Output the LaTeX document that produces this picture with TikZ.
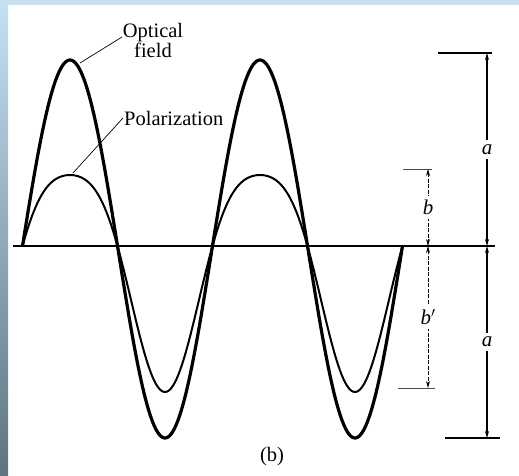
\documentclass[tikz,border=0pt]{standalone}
\usepackage{fontspec}
\setmainfont{Liberation Serif}
\usetikzlibrary{arrows.meta}
\definecolor{bandtop}{RGB}{197,225,243}
\definecolor{bandbot}{RGB}{94,116,128}
\begin{document}
\begin{tikzpicture}[x=1pt,y=-1pt,
  field/.style={line width=3.2pt,line join=round},
  polar/.style={line width=2pt,line join=round},
  axisline/.style={line width=1.3pt},
  leader/.style={line width=0.7pt},
  dimline/.style={line width=1.1pt,{Stealth[length=7pt,width=4pt]}-{Stealth[length=7pt,width=4pt]}},
  dimdash/.style={line width=0.8pt,dash pattern=on 4pt off 1.5pt,{Stealth[length=7pt,width=4pt]}-{Stealth[length=7pt,width=4pt]}},
  tick/.style={line width=1.1pt},
  ticklight/.style={line width=1pt,black!70},
  lbl/.style={font=\fontsize{20.5}{20}\selectfont,inner sep=0pt},
  dimlbl/.style={font=\fontsize{21}{21}\selectfont\itshape,fill=white,inner sep=4pt}
]
\useasboundingbox (0,0) rectangle (519,476);
\fill[white] (0,0) rectangle (519,476);
\fill[bandtop] (0,0) rectangle (519,5);
\shade[top color=bandtop,bottom color=bandbot] (0,0) rectangle (8,476);

% axis
\coordinate (axL) at (13,246);
\coordinate (axR) at (495,246);
\draw[axisline] (axL) -- (axR);

% curves
\draw[field] plot[domain=0:720,samples=241,variable=\t]
  ({22.5+0.527778*\t},{246-189*sin(\t)+3*sin(\t)*sin(\t)});
\draw[polar] plot[domain=0:720,samples=241,variable=\t]
  ({22.5+0.527778*\t},{246-108.5*sin(\t)+37.5*sin(\t)*sin(\t)});

% labels
\node[lbl,align=center] (opt) at (153,40) {Optical\\field};
\node[lbl,anchor=base west] (pol) at (124,125) {Polarization};
\coordinate (optE) at (80,63);
\coordinate (polE) at (73,173);
\draw[leader] (optE) -- (122,37);
\draw[leader] (polE) -- (123,118);

% dimension a
\coordinate (aT) at (487,53);
\coordinate (aM) at (487,246);
\coordinate (aB) at (487,438);
\draw[tick] (438,53) -- (492,53);
\draw[tick] (445,438) -- (500,438);
\draw[dimline] (aT) -- (aM) node[dimlbl,midway] (la1) {a};
\draw[dimline] (aM) -- (aB) node[dimlbl,midway] (la2) {a};

% dimension b, b'
\coordinate (bT) at (428,169);
\coordinate (bM) at (428,246);
\coordinate (bB) at (428,388);
\draw[ticklight] (403,169) -- (432,169);
\draw[ticklight] (398,388) -- (435,388);
\draw[dimdash] (bT) -- (bM) node[dimlbl,midway] (lb1) {b};
\draw[dimdash] (bM) -- (bB) node[dimlbl,midway] (lb2) {b$'$};

% caption
\node[lbl] (cap) at (272,457) {(b)};
\end{tikzpicture}
\end{document}
